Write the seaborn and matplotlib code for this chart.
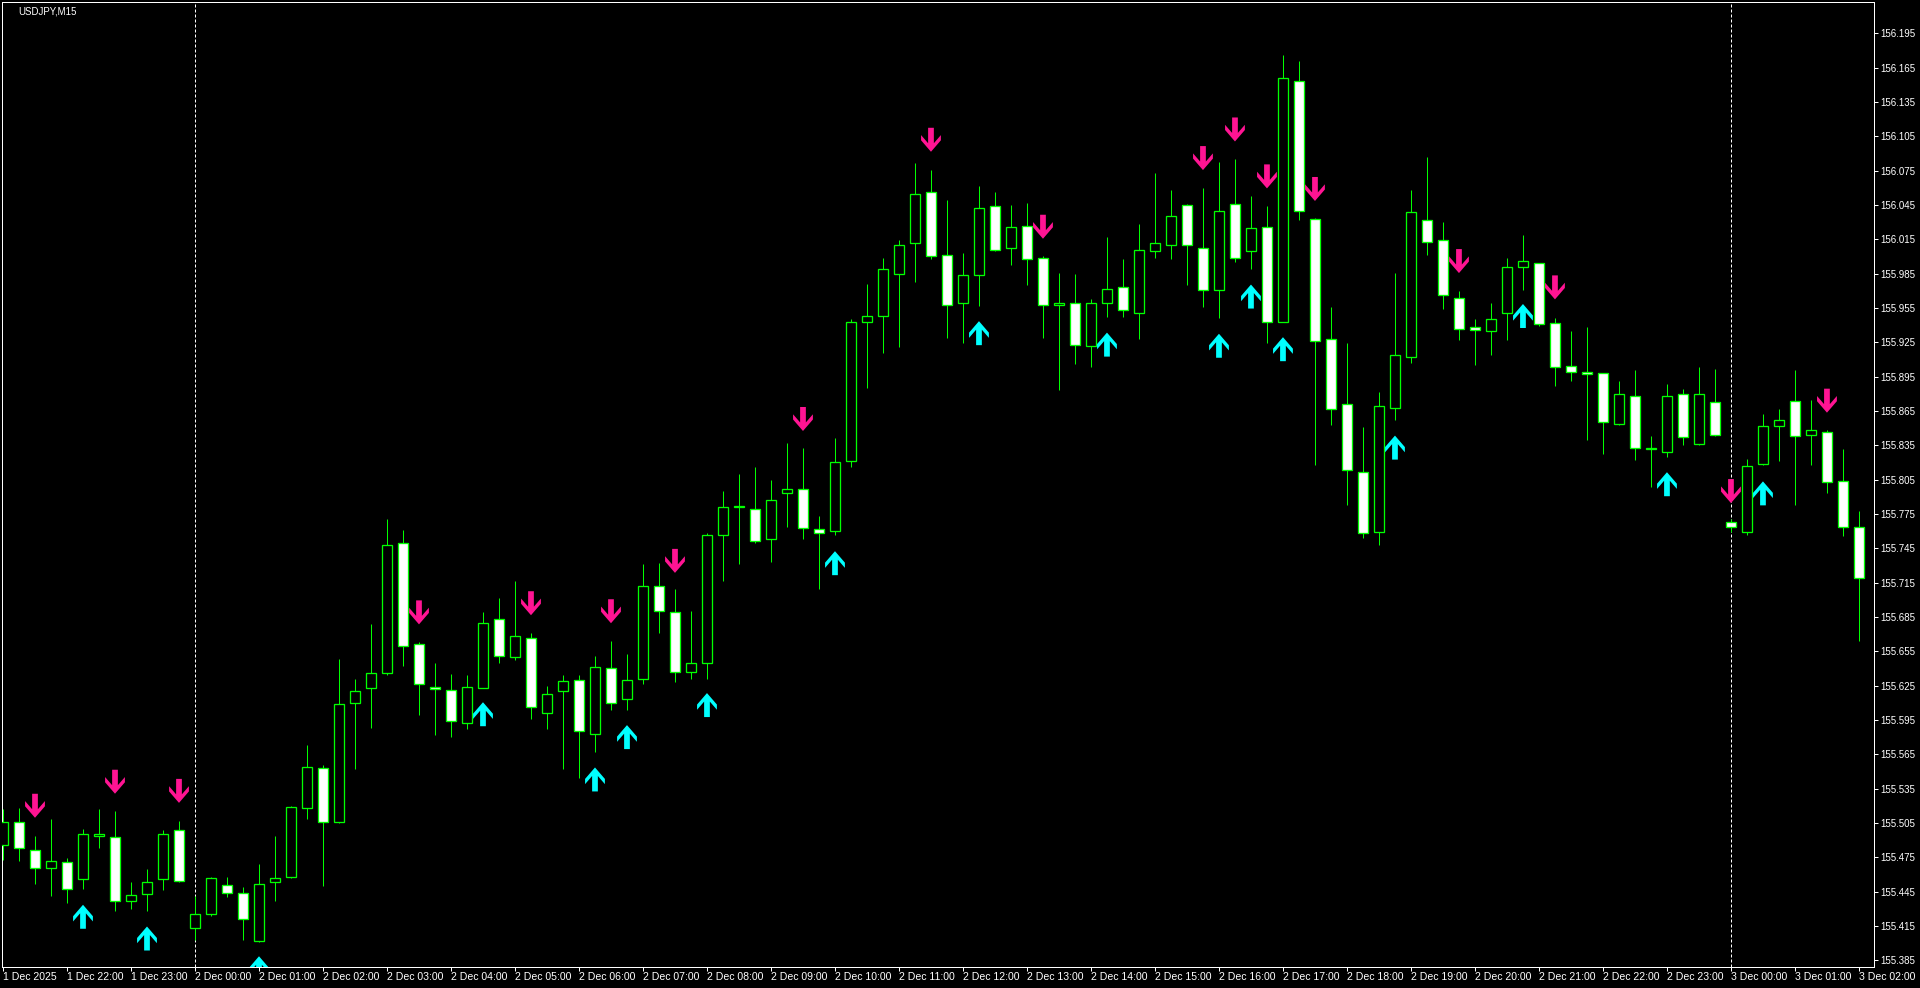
import numpy as np
import matplotlib
matplotlib.use("Agg")
import matplotlib.pyplot as plt
from matplotlib.path import Path
import seaborn as sns

# ---------------- data (USDJPY M15) ----------------
opens = [155.486, 155.506, 155.481, 155.466, 155.471, 155.456, 155.494, 155.493, 155.437, 155.443,
         155.456, 155.499, 155.413, 155.425, 155.451, 155.444, 155.402, 155.453, 155.458, 155.518,
         155.553, 155.506, 155.610, 155.623, 155.636, 155.750, 155.661, 155.624, 155.621, 155.592,
         155.623, 155.683, 155.650, 155.667, 155.601, 155.620, 155.630, 155.583, 155.640, 155.613,
         155.631, 155.712, 155.689, 155.637, 155.645, 155.757, 155.781, 155.779, 155.753, 155.793,
         155.797, 155.762, 155.760, 155.821, 155.943, 155.948, 155.985, 156.012, 156.056, 156.001,
         155.959, 155.984, 156.044, 156.007, 156.027, 155.999, 155.958, 155.959, 155.922, 155.959,
         155.973, 155.951, 156.005, 156.010, 156.045, 156.007, 155.971, 156.046, 156.005, 156.026,
         155.943, 156.153, 156.033, 155.928, 155.871, 155.812, 155.759, 155.868, 155.912, 156.032,
         156.014, 155.964, 155.938, 155.935, 155.951, 155.991, 155.994, 155.942, 155.904, 155.899,
         155.898, 155.854, 155.878, 155.832, 155.829, 155.880, 155.836, 155.873, 155.768, 155.759,
         155.819, 155.852, 155.874, 155.844, 155.847, 155.804, 155.764]
highs = [155.517, 155.518, 155.494, 155.508, 155.474, 155.500, 155.517, 155.515, 155.453, 155.465,
         155.499, 155.507, 155.441, 155.458, 155.458, 155.449, 155.469, 155.494, 155.520, 155.573,
         155.556, 155.648, 155.631, 155.679, 155.771, 155.761, 155.663, 155.645, 155.635, 155.634,
         155.689, 155.702, 155.716, 155.671, 155.625, 155.634, 155.634, 155.651, 155.664, 155.653,
         155.731, 155.732, 155.709, 155.690, 155.758, 155.795, 155.810, 155.816, 155.805, 155.837,
         155.833, 155.773, 155.841, 155.945, 155.976, 155.999, 156.014, 156.082, 156.076, 156.049,
         156.003, 156.062, 156.056, 156.045, 156.047, 156.000, 155.986, 155.985, 155.963, 156.017,
         155.998, 156.028, 156.073, 156.058, 156.046, 156.060, 156.083, 156.085, 156.053, 156.044,
         156.176, 156.171, 156.034, 155.956, 155.924, 155.851, 155.882, 155.986, 156.058, 156.087,
         156.030, 155.970, 155.945, 155.959, 155.999, 156.019, 155.994, 155.946, 155.935, 155.938,
         155.898, 155.891, 155.901, 155.843, 155.889, 155.884, 155.903, 155.902, 155.771, 155.823,
         155.862, 155.867, 155.901, 155.875, 155.848, 155.832, 155.778]
lows = [155.473, 155.472, 155.452, 155.441, 155.435, 155.447, 155.483, 155.428, 155.430, 155.428,
        155.446, 155.453, 155.403, 155.424, 155.440, 155.403, 155.401, 155.437, 155.457, 155.508,
        155.450, 155.505, 155.552, 155.588, 155.634, 155.642, 155.599, 155.582, 155.580, 155.587,
        155.623, 155.645, 155.647, 155.596, 155.587, 155.552, 155.544, 155.567, 155.604, 155.604,
        155.626, 155.671, 155.628, 155.631, 155.631, 155.716, 155.731, 155.750, 155.733, 155.764,
        155.753, 155.709, 155.757, 155.816, 155.885, 155.916, 155.921, 155.978, 155.998, 155.929,
        155.924, 155.957, 156.005, 155.993, 155.975, 155.929, 155.883, 155.906, 155.903, 155.947,
        155.947, 155.928, 155.999, 155.998, 155.975, 155.956, 155.946, 155.995, 155.989, 155.924,
        155.943, 156.032, 155.818, 155.853, 155.783, 155.754, 155.748, 155.857, 155.907, 156.001,
        155.954, 155.927, 155.905, 155.914, 155.927, 155.971, 155.939, 155.887, 155.891, 155.840,
        155.827, 155.853, 155.822, 155.799, 155.825, 155.835, 155.835, 155.843, 155.759, 155.757,
        155.818, 155.821, 155.783, 155.818, 155.793, 155.756, 155.664]
closes = [155.506, 155.483, 155.466, 155.472, 155.447, 155.495, 155.495, 155.437, 155.442, 155.453,
          155.495, 155.454, 155.425, 155.457, 155.444, 155.421, 155.452, 155.457, 155.519, 155.554,
          155.506, 155.609, 155.620, 155.636, 155.748, 155.660, 155.626, 155.622, 155.594, 155.624,
          155.680, 155.651, 155.668, 155.606, 155.618, 155.629, 155.585, 155.641, 155.610, 155.630,
          155.712, 155.690, 155.637, 155.645, 155.757, 155.781, 155.782, 155.751, 155.787, 155.797,
          155.763, 155.758, 155.820, 155.943, 155.948, 155.989, 156.010, 156.055, 156.000, 155.958,
          155.984, 156.042, 156.006, 156.026, 155.998, 155.958, 155.959, 155.923, 155.959, 155.972,
          155.953, 156.006, 156.012, 156.035, 156.010, 155.971, 156.040, 155.999, 156.025, 155.943,
          156.156, 156.040, 155.926, 155.867, 155.813, 155.758, 155.869, 155.914, 156.039, 156.013,
          155.966, 155.937, 155.936, 155.945, 155.991, 155.996, 155.941, 155.903, 155.899, 155.897,
          155.855, 155.880, 155.833, 155.833, 155.878, 155.842, 155.880, 155.844, 155.764, 155.817,
          155.852, 155.857, 155.843, 155.848, 155.803, 155.764, 155.719]

sell_idx = [2, 7, 11, 26, 33, 38, 42, 50, 58, 65, 75, 77, 79, 82, 91, 97, 108, 114]
sell_level = [155.520, 155.541, 155.533, 155.689, 155.697, 155.690, 155.734, 155.858, 156.102,
              156.026, 156.086, 156.111, 156.070, 156.059, 155.996, 155.973, 155.795, 155.874]
buy_idx = [5, 9, 16, 30, 37, 39, 44, 52, 61, 69, 76, 78, 80, 87, 95, 104, 110]
buy_level = [155.423, 155.404, 155.378, 155.600, 155.543, 155.580, 155.608, 155.732, 155.933,
             155.923, 155.922, 155.965, 155.919, 155.833, 155.948, 155.801, 155.793]

x_tick_labels = ["1 Dec 2025", "1 Dec 22:00", "1 Dec 23:00",
                 "2 Dec 00:00", "2 Dec 01:00", "2 Dec 02:00", "2 Dec 03:00", "2 Dec 04:00",
                 "2 Dec 05:00", "2 Dec 06:00", "2 Dec 07:00", "2 Dec 08:00", "2 Dec 09:00",
                 "2 Dec 10:00", "2 Dec 11:00", "2 Dec 12:00", "2 Dec 13:00", "2 Dec 14:00",
                 "2 Dec 15:00", "2 Dec 16:00", "2 Dec 17:00", "2 Dec 18:00", "2 Dec 19:00",
                 "2 Dec 20:00", "2 Dec 21:00", "2 Dec 22:00", "2 Dec 23:00",
                 "3 Dec 00:00", "3 Dec 01:00", "3 Dec 02:00"]
day_start_idx = [12, 108]
y_ticks = [155.385, 155.415, 155.445, 155.475, 155.505, 155.535, 155.565, 155.595, 155.625,
           155.655, 155.685, 155.715, 155.745, 155.775, 155.805, 155.835, 155.865, 155.895,
           155.925, 155.955, 155.985, 156.015, 156.045, 156.075, 156.105, 156.135, 156.165, 156.195]
title_text = "USDJPY,M15"

# ---------------- style ----------------
sns.set_theme(style="ticks", rc={"axes.facecolor": "black", "figure.facecolor": "black",
                                  "lines.scale_dashes": False})
plt.rcParams["font.family"] = ["Liberation Sans", "DejaVu Sans"]

PX = 0.72  # one pixel in points at dpi 100
GREEN = "#00FF00"
PINK = "#FF1493"
CYAN = "#00FFFF"

W, H = 1920, 988
fig = plt.figure(figsize=(W / 100, H / 100), dpi=100, facecolor="black")
ax = fig.add_axes([2 / W, 1 - 967 / H, (1874 - 2) / W, (967 - 2) / H])
ax.set_facecolor("black")

o = np.array(opens); h = np.array(highs); l = np.array(lows); c = np.array(closes)
idx = np.arange(len(o))
bull = c >= o

# wicks
ax.vlines(idx, l, h, color=GREEN, linewidth=1.0 * PX, zorder=2)
# bodies
bottom = np.minimum(o, c)
height = np.maximum(np.abs(c - o), 0.0008)
ax.bar(idx, height, bottom=bottom, width=0.6,
       color=np.where(bull, "black", "white"), edgecolor=GREEN,
       linewidth=1.3 * PX, zorder=3)

# day separators
for d in day_start_idx:
    ax.axvline(d, color="white", linewidth=1.0 * PX, linestyle=(0, (3 * PX, 2 * PX)), zorder=1)

# arrow markers
verts_down = [(-2.75, 11.5), (2.75, 11.5), (2.75, -3.3), (9.5, 4.5), (9.5, -0.5), (0, -11.5),
              (-9.5, -0.5), (-9.5, 4.5), (-2.75, -3.3), (-2.75, 11.5)]
codes = [Path.MOVETO] + [Path.LINETO] * (len(verts_down) - 2) + [Path.CLOSEPOLY]
down_arrow = Path(verts_down, codes)
up_arrow = Path([(x, -y) for x, y in verts_down], codes)
msize = (24 * PX) ** 2

sns.scatterplot(x=sell_idx, y=sell_level, marker=down_arrow, s=msize, color=PINK,
                edgecolor="none", linewidth=0, ax=ax, zorder=5, legend=False)
sns.scatterplot(x=buy_idx, y=buy_level, marker=up_arrow, s=msize, color=CYAN,
                edgecolor="none", linewidth=0, ax=ax, zorder=5, legend=False)

# limits
ax.set_xlim(-0.0625, 116.94)
ax.set_ylim(155.3791, 156.2224)

# axes / ticks
for s in ax.spines.values():
    s.set_color("white")
    s.set_linewidth(1.0 * PX)
ax.yaxis.tick_right()
ax.set_yticks(y_ticks)
ax.set_yticklabels([f"{v:.3f}" for v in y_ticks])
ax.set_xticks(np.arange(0, len(o), 4))
ax.set_xticklabels(x_tick_labels, ha="left")
ax.tick_params(axis="y", colors="white", length=4 * PX, width=1.0 * PX, pad=1.5,
               labelsize=7.0, direction="out", left=False, right=True)
ax.tick_params(axis="x", colors="white", length=4 * PX, width=1.0 * PX, pad=0.8,
               labelsize=7.6, direction="out")
ax.set_xlabel("")
ax.set_ylabel("")
ax.grid(False)

fig.text(18 / W, 1 - 11 / H, title_text, color="white", fontsize=7.0, ha="left", va="center")

fig.savefig("out.png", dpi=100, facecolor="black")
